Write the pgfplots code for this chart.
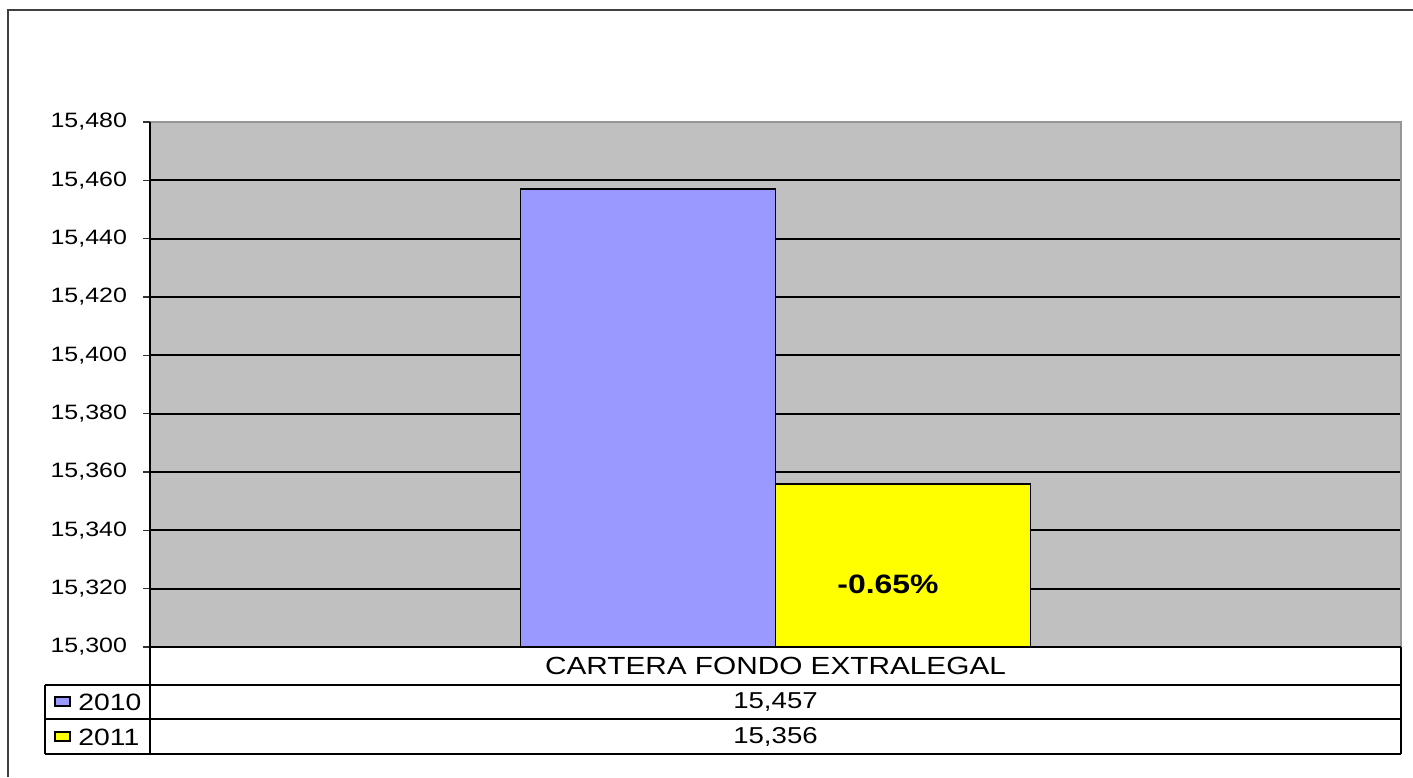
\documentclass[border=0pt]{standalone}
\usepackage{fontspec}
\setmainfont{Liberation Sans}[FakeStretch=1.2]
\usepackage{pgfplots}
\pgfplotsset{compat=1.18}
\definecolor{barA}{RGB}{153,153,255}
\definecolor{barB}{RGB}{255,255,0}
\definecolor{plotbg}{RGB}{192,192,192}
\definecolor{framegray}{RGB}{150,150,150}
\begin{document}
\begin{tikzpicture}
\useasboundingbox (0,0) rectangle (706.5pt,388.5pt);
\begin{axis}[
  at={(75pt,65pt)}, anchor=south west,
  width=625.5pt, height=262.5pt, scale only axis,
  xmin=0, xmax=1, ymin=15300, ymax=15480,
  ytick distance=20, xtick=\empty,
  ytick pos=left,
  scaled y ticks=false,
  ybar=0pt, bar width=127.5pt,
  axis background/.style={fill=plotbg},
  axis line style={draw=none},
  ymajorgrids, grid style={black, line width=0.9pt},
  tick align=outside, major tick length=3.5pt,
  ytick style={black!80, line width=0.6pt},
  yticklabel style={font=\fontsize{10.4}{12}\selectfont, anchor=east, xshift=-4.5pt,
    /pgf/number format/.cd, fixed, precision=0, 1000 sep={,}, assume math mode=true},
]
\addplot[fill=barA, draw=black, line width=0.9pt] coordinates {(0.5,15457)};
\addplot[fill=barB, draw=black, line width=0.9pt] coordinates {(0.5,15356)};
\node[font=\fontsize{13.3}{15}\selectfont\bfseries, xshift=56.25pt] at (axis cs:0.5,15321.6) {-0.65\%};
\end{axis}
\begin{scope}[x=0.5pt,y=-0.5pt,shift={(0pt,388.5pt)}]
  % outer frame
  \draw[line width=1pt, color=black!75] (8,777) -- (8,10) -- (1413,10);
  % plot border
  \draw[line width=1pt, framegray] (150,122) -- (1401,122) -- (1401,647);
  \draw[line width=1pt, black] (150,122) -- (150,754);
  \draw[line width=1pt, black] (150,647) -- (1401,647);
  % data table
  \draw[line width=0.75pt, black] (1401,647) -- (1401,754);
  \draw[line width=0.75pt, black] (45,685) -- (1401,685);
  \draw[line width=0.75pt, black] (45,719) -- (1401,719);
  \draw[line width=0.75pt, black] (45,754) -- (1401,754);
  \draw[line width=0.75pt, black] (45,685) -- (45,754);
  \node[font=\fontsize{12.4}{14}\selectfont] at (775.5,666) {CARTERA FONDO EXTRALEGAL};
  \node[font=\fontsize{11.5}{13}\selectfont] at (775.5,702) {15,457};
  \node[font=\fontsize{11.5}{13}\selectfont] at (775.5,737) {15,356};
  \draw[fill=barA, draw=black, line width=0.6pt] (55,697) rectangle (70,706);
  \draw[fill=barB, draw=black, line width=0.6pt] (55,732) rectangle (70,741);
  \node[font=\fontsize{11.8}{13}\selectfont, anchor=west, inner sep=0pt] at (78,702) {2010};
  \node[font=\fontsize{11.8}{13}\selectfont, anchor=west, inner sep=0pt] at (78,737) {2011};
\end{scope}
\end{tikzpicture}
\end{document}
